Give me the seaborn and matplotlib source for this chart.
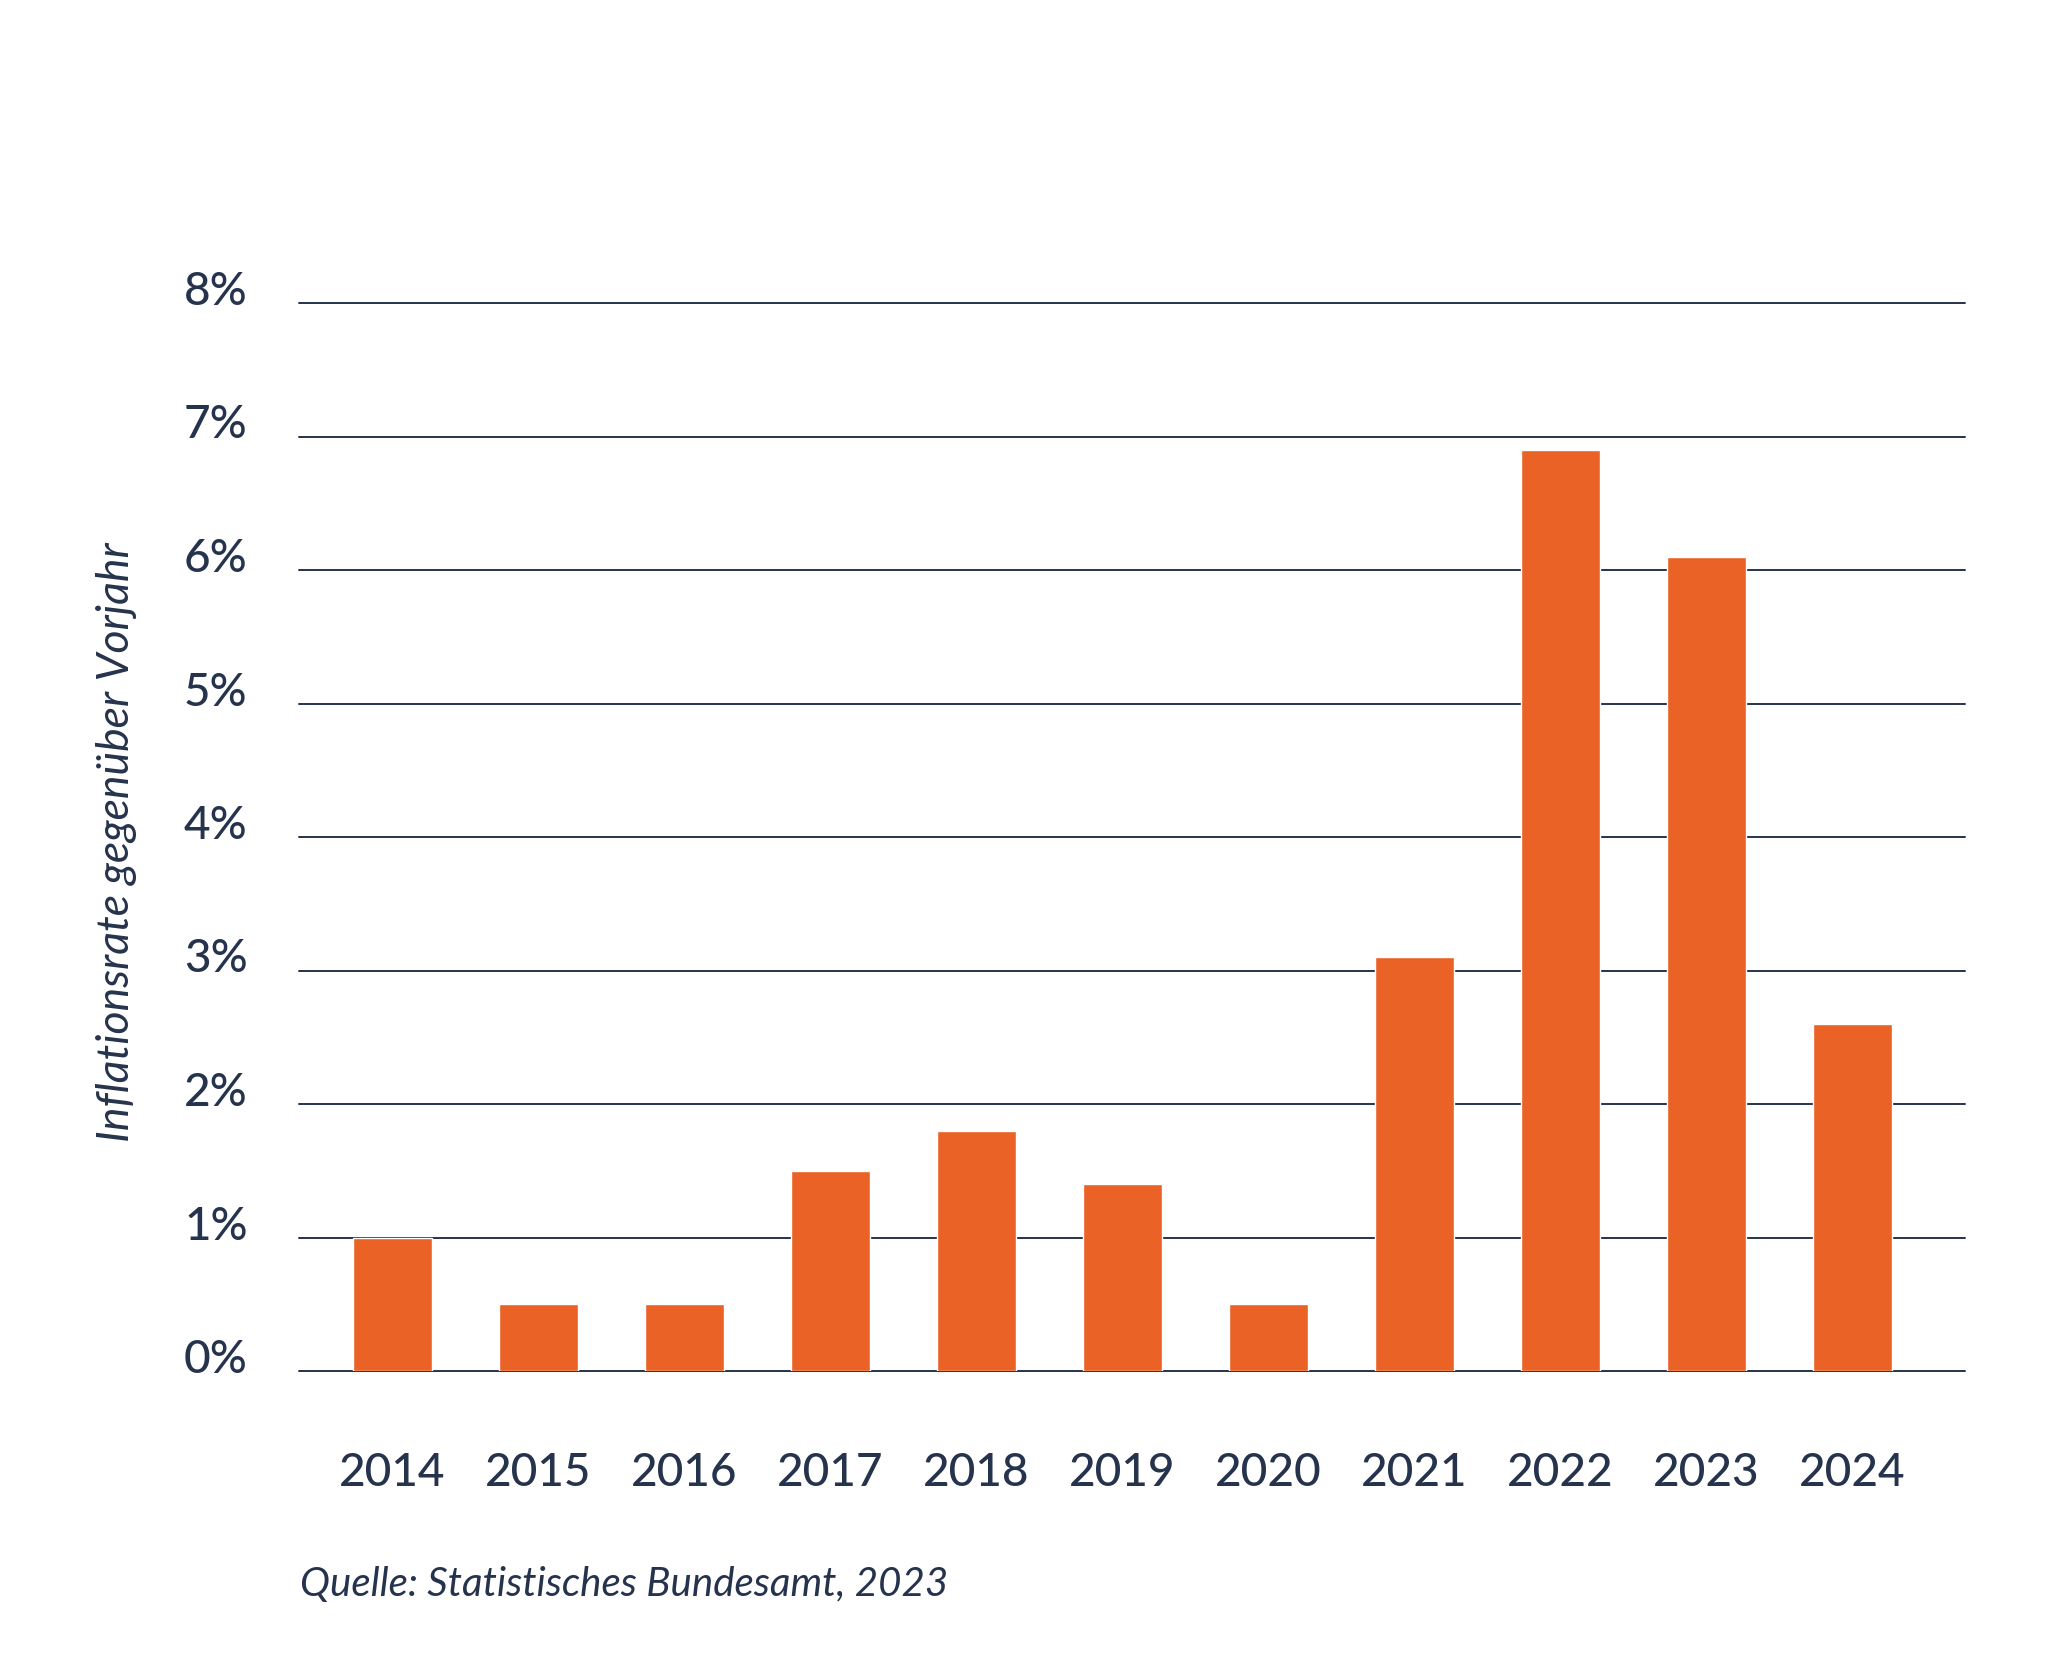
import matplotlib
matplotlib.use("Agg")
import seaborn as sns
import pandas as pd
from matplotlib import pyplot as plt
from matplotlib.transforms import ScaledTranslation

years = ['2014', '2015', '2016', '2017', '2018', '2019', '2020', '2021', '2022', '2023', '2024']
inflation = [1.0, 0.5, 0.5, 1.5, 1.8, 1.4, 0.5, 3.1, 6.9, 6.1, 2.6]
yticks = [0, 1, 2, 3, 4, 5, 6, 7, 8]
ytick_labels = ['0%', '1%', '2%', '3%', '4%', '5%', '6%', '7%', '8%']

navy = '#26334d'
orange = '#ea6225'

sns.set_style('white')
plt.rcParams['font.family'] = ['Lato', 'DejaVu Sans']

df = pd.DataFrame(dict(year=years, rate=inflation))

fig = plt.figure(figsize=(20.56, 16.79), dpi=100)
ax = fig.add_axes([299 / 2056, 1 - 1371 / 1679, (1965 - 299) / 2056, (1371 - 303) / 1679])

sns.barplot(data=df, x='year', y='rate', color=orange, saturation=1, width=0.54, ax=ax)

ax.set_xlim(-0.64, 10.77)
ax.set_ylim(0, 8)
ax.set_yticks(yticks)
ax.set_yticklabels(ytick_labels)
ax.set_axisbelow(True)
ax.yaxis.grid(True, color=navy, lw=1.4)
for gl in ax.get_ygridlines():
    gl.set_clip_on(False)
for s in ax.spines.values():
    s.set_visible(False)

ax.tick_params(axis='both', length=0, labelsize=33, labelcolor=navy)
ax.tick_params(axis='y', pad=37)
ax.tick_params(axis='x', pad=58)
off = ScaledTranslation(0, 0.15, fig.dpi_scale_trans)
for lbl in ax.get_yticklabels():
    lbl.set_transform(lbl.get_transform() + off)
    lbl.set_fontweight('medium')
for lbl in ax.get_xticklabels():
    lbl.set_fontweight('medium')

ax.set_xlabel('')
ax.set_ylabel('')
fig.text(117 / 2056, 1 - 842 / 1679, 'Inflationsrate gegenüber Vorjahr', rotation=90,
         ha='center', va='center', fontsize=32, style='italic', color=navy)
fig.text(300 / 2056, 1 - 1584 / 1679, 'Quelle: Statistisches Bundesamt, 2023',
         ha='left', va='center', fontsize=29, style='italic', color=navy)

fig.savefig('out.png', dpi=100, facecolor='white')
